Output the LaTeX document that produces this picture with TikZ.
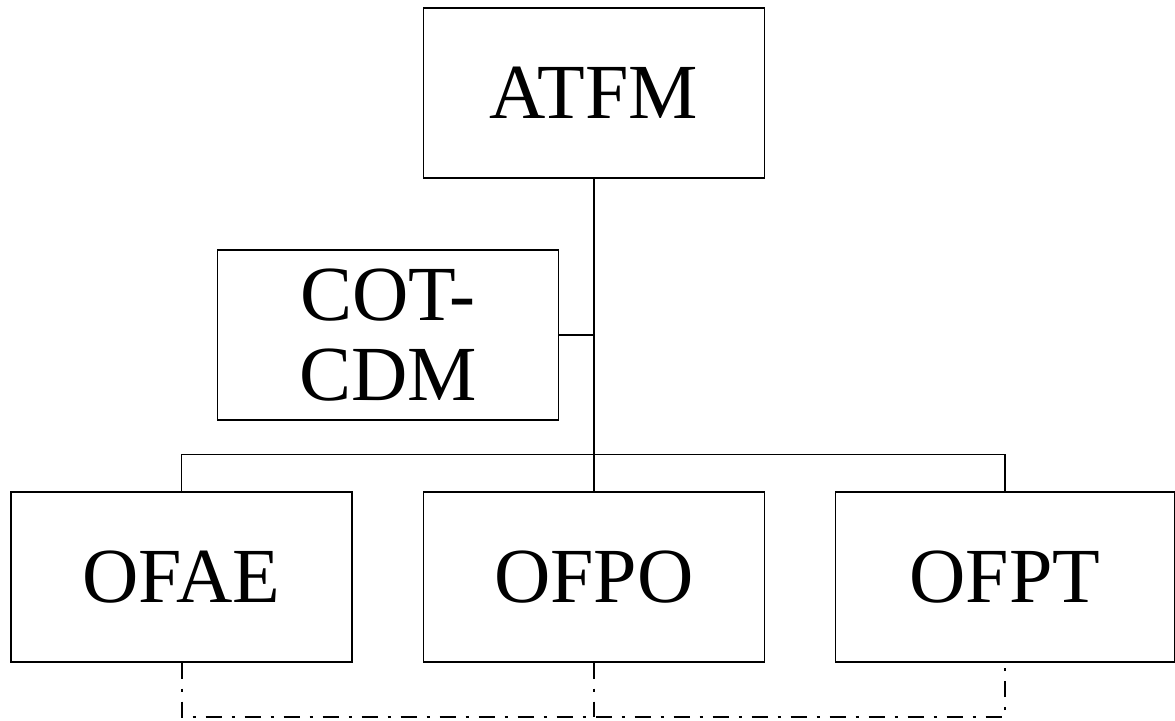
\documentclass[tikz,border=0pt]{standalone}
\usepackage{fontspec}
\setmainfont{Liberation Serif}
\begin{document}
\begin{tikzpicture}[x=1pt,y=-1pt,
  unitbox/.style={draw=black,line width=1.2pt,rectangle,minimum width=341pt,minimum height=170pt,inner sep=0pt,align=center,font=\fontsize{78}{80}\selectfont},
  conn/.style={draw=black,line width=1.1pt},
  dd/.style={draw=black,line width=2pt,dash pattern=on 16pt off 10pt on 3pt off 10pt}]
\useasboundingbox (0,0) rectangle (1175,720);
\node[unitbox] (atfm) at (594,93) {ATFM};
\node[unitbox] (cot) at (388,335) {COT-\\CDM};
\node[unitbox] (ofae) at (181.5,577) {OFAE};
\node[unitbox] (ofpo) at (594,577) {OFPO};
\node[unitbox,minimum width=339pt] (ofpt) at (1005,577) {OFPT};
\draw[conn] (atfm.south) -- (ofpo.north);
\draw[conn] (cot.east) -- (cot.east -| atfm.south);
\draw[conn] (ofae.north) -- ++(0,-37) -| (ofpt.north);
\draw[dd] (ofae.south) -- ++(0,54) -| (ofpt.south);
\draw[dd] (ofpo.south) -- ++(0,54);
\end{tikzpicture}
\end{document}
